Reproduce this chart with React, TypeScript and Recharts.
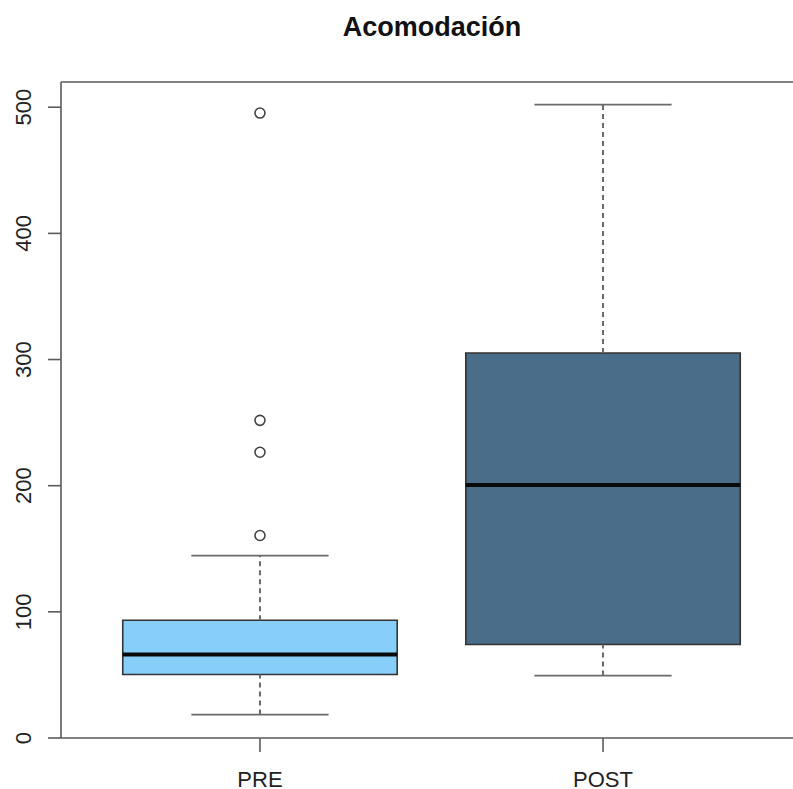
import React from 'react'
import { ComposedChart, XAxis, YAxis, Scatter, ReferenceArea, ReferenceLine } from 'recharts'

// box plot summary
const groups = ['PRE', 'POST']
const positions = [1, 2]
const lowerWhisker = [18.6, 49.5]
const q1 = [50.3, 74.1]
const median = [66.2, 200.6]
const q3 = [93.3, 305.2]
const upperWhisker = [144.6, 502]
const boxColors = ['#87cefa', '#4a6e8a']

const outlierGroup = [1, 1, 1, 1]
const outlierValue = [495.4, 251.8, 226.5, 160.5]

const yTicks = [0, 100, 200, 300, 400, 500]
const xDomain = [0.42, 2.58]
const yDomain = [0, 520]

const BOX_HALF = 0.4
const CAP_HALF = 0.2
const FONT = '"Liberation Sans", Arial, Helvetica, sans-serif'

const outliers = outlierValue.map((v, i) => ({ x: outlierGroup[i], y: v }))

const YTick = (props: any) => {
  const { x, y, payload } = props
  return (
    <g>
      <text x={x} y={y} transform={`rotate(-90, ${x}, ${y})`} textAnchor="middle"
        fontSize={22} fontFamily={FONT} fill="#222">
        {payload.value}
      </text>
    </g>
  )
}

const XTick = (props: any) => {
  const { x, y, payload } = props
  const idx = positions.indexOf(payload.value)
  return (
    <g>
      <text x={x} y={y} dy="0.71em" textAnchor="middle" fontSize={22} fontFamily={FONT} fill="#222">
        {groups[idx]}
      </text>
    </g>
  )
}

const Ring = (props: any) => {
  const { cx, cy } = props
  return <circle cx={cx} cy={cy} r={5} fill="none" stroke="#444" strokeWidth={1.6} />
}

export default function App() {
  const lineColor = '#5a5a5a'
  const whiskerColor = '#6a6a6a'
  return (
    <div style={{ position: 'absolute', left: 0, top: 0, width: 793, height: 789, overflow: 'hidden', background: '#fff' }}>
      <div style={{
        position: 'absolute', left: 0, top: 14, width: 864, textAlign: 'center',
        fontFamily: FONT, fontWeight: 'bold', fontSize: 27, lineHeight: '27px', color: '#111'
      }}>
        Acomodación
      </div>
      <ComposedChart width={810} height={789} margin={{ top: 82, right: 8, bottom: 0, left: 0 }}>
        <XAxis type="number" dataKey="x" domain={xDomain} ticks={positions} allowDataOverflow
          height={51} tickSize={14} tickMargin={19} tick={<XTick />}
          stroke={lineColor} strokeWidth={1.6} tickLine={{ stroke: lineColor, strokeWidth: 1.6 }} />
        <YAxis type="number" dataKey="y" domain={yDomain} ticks={yTicks} allowDataOverflow
          width={61} tickSize={13} tickMargin={17} tick={<YTick />}
          stroke={lineColor} strokeWidth={1.6} tickLine={{ stroke: lineColor, strokeWidth: 1.6 }} />

        {/* top border of the plot box */}
        <ReferenceLine y={yDomain[1]} stroke={lineColor} strokeWidth={1.6} />

        {positions.map((p, i) => (
          <ReferenceLine key={'wu' + i} segment={[{ x: p, y: q3[i] }, { x: p, y: upperWhisker[i] }]}
            stroke={whiskerColor} strokeWidth={2} strokeDasharray="5 4" />
        ))}
        {positions.map((p, i) => (
          <ReferenceLine key={'wl' + i} segment={[{ x: p, y: lowerWhisker[i] }, { x: p, y: q1[i] }]}
            stroke={whiskerColor} strokeWidth={2} strokeDasharray="5 4" />
        ))}
        {positions.map((p, i) => (
          <ReferenceLine key={'cu' + i} segment={[{ x: p - CAP_HALF, y: upperWhisker[i] }, { x: p + CAP_HALF, y: upperWhisker[i] }]}
            stroke={whiskerColor} strokeWidth={1.8} />
        ))}
        {positions.map((p, i) => (
          <ReferenceLine key={'cl' + i} segment={[{ x: p - CAP_HALF, y: lowerWhisker[i] }, { x: p + CAP_HALF, y: lowerWhisker[i] }]}
            stroke={whiskerColor} strokeWidth={1.8} />
        ))}
        {positions.map((p, i) => (
          <ReferenceArea key={'b' + i} x1={p - BOX_HALF} x2={p + BOX_HALF} y1={q1[i]} y2={q3[i]}
            fill={boxColors[i]} fillOpacity={1} stroke="#333" strokeWidth={1.6} />
        ))}
        {positions.map((p, i) => (
          <ReferenceLine key={'m' + i} segment={[{ x: p - BOX_HALF, y: median[i] }, { x: p + BOX_HALF, y: median[i] }]}
            stroke="#0a0a0a" strokeWidth={4} />
        ))}

        <Scatter data={outliers} dataKey="y" shape={<Ring />} isAnimationActive={false} />
      </ComposedChart>
    </div>
  )
}
